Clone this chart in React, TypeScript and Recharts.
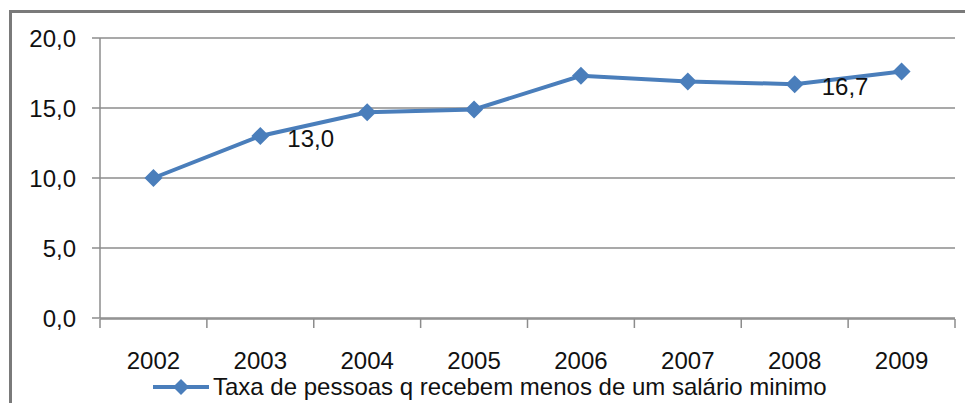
import { CartesianGrid, Legend, Line, LineChart, XAxis, YAxis } from "recharts";

const years = ["2002", "2003", "2004", "2005", "2006", "2007", "2008", "2009"];
const taxa = [10.0, 13.0, 14.7, 14.9, 17.3, 16.9, 16.7, 17.6];
const labeledYears = ["2003", "2008"];
const yTicks = [0, 5, 10, 15, 20];
const seriesName = "Taxa de pessoas q recebem menos de um salário minimo";

const data = years.map((year, i) => ({ pos: i + 1, year, taxa: taxa[i] }));
const boundaryTicks = [...years.map((_, i) => i + 0.5), years.length + 0.5];
const labelTicks = years.map((_, i) => i + 1);

const BLUE = "#4A7EBB";
const GRID = "#8C8C8C";
const FONT = "'Liberation Sans', Arial, sans-serif";

const fmt = (v: number) => v.toFixed(1).replace(".", ",");

function Diamond({ cx, cy, r }: { cx?: number; cy?: number; r: number }) {
  if (cx == null || cy == null) return null;
  return <polygon points={`${cx},${cy - r} ${cx + r},${cy} ${cx},${cy + r} ${cx - r},${cy}`} fill={BLUE} />;
}

function PointLabel(props: any) {
  const { x, y, value, index } = props;
  if (!labeledYears.includes(years[index])) return null;
  return (
    <text x={x + 27} y={y + 2} dominantBaseline="central" fontSize={24} fontFamily={FONT} fill="#111">
      {fmt(value)}
    </text>
  );
}

function LegendContent() {
  return (
    <div style={{ display: "flex", alignItems: "center", fontFamily: FONT, fontSize: 24, color: "#111" }}>
      <svg width={60} height={20} style={{ marginRight: 2 }}>
        <line x1={2} y1={10} x2={58} y2={10} stroke={BLUE} strokeWidth={4} />
        <polygon points="30,2 38,10 30,18 22,10" fill={BLUE} />
      </svg>
      <span>{seriesName}</span>
    </div>
  );
}

export default function App() {
  return (
    <div style={{ position: "absolute", left: 0, top: 0, width: 965, height: 403, overflow: "hidden", background: "#fff" }}>
      <div
        style={{
          position: "absolute",
          left: 9,
          top: 10,
          width: 1000,
          height: 500,
          borderLeft: "3px solid #7a7a7a",
          borderTop: "3px solid #7a7a7a",
        }}
      />
      <div style={{ position: "absolute", left: 0, top: 0 }}>
        <LineChart width={965} height={403} data={data} margin={{ top: 38, right: 10, bottom: 83, left: 0 }}>
          <CartesianGrid xAxisId="ticks" vertical={false} stroke={GRID} strokeWidth={1.5} />
          <XAxis
            xAxisId="ticks"
            dataKey="pos"
            type="number"
            domain={[0.5, years.length + 0.5]}
            ticks={boundaryTicks}
            tickFormatter={() => ""}
            tickSize={9}
            height={1}
            stroke={GRID}
            strokeWidth={1.5}
          />
          <XAxis
            xAxisId="labels"
            dataKey="pos"
            type="number"
            domain={[0.5, years.length + 0.5]}
            ticks={labelTicks}
            tickFormatter={(v: number) => years[v - 1]}
            tickLine={false}
            axisLine={false}
            tickSize={0}
            tickMargin={34}
            height={1}
            tick={{ fill: "#111", fontSize: 24, fontFamily: FONT }}
          />
          <YAxis
            domain={[0, 20]}
            ticks={yTicks}
            tickFormatter={fmt}
            width={100}
            tickSize={8}
            tickMargin={16}
            stroke={GRID}
            strokeWidth={1.5}
            tick={{ fill: "#111", fontSize: 24, fontFamily: FONT }}
          />
          <Legend
            verticalAlign="middle"
            align="center"
            layout="horizontal"
            content={() => <LegendContent />}
            wrapperStyle={{ left: 151, top: 373, width: 800, height: 30 }}
          />
          <Line
            xAxisId="ticks"
            dataKey="taxa"
            name={seriesName}
            stroke={BLUE}
            strokeWidth={4}
            dot={(p: any) => <Diamond key={`d${p.index}`} cx={p.cx} cy={p.cy} r={9} />}
            activeDot={false}
            label={PointLabel}
            isAnimationActive={false}
          />
        </LineChart>
      </div>
    </div>
  );
}
